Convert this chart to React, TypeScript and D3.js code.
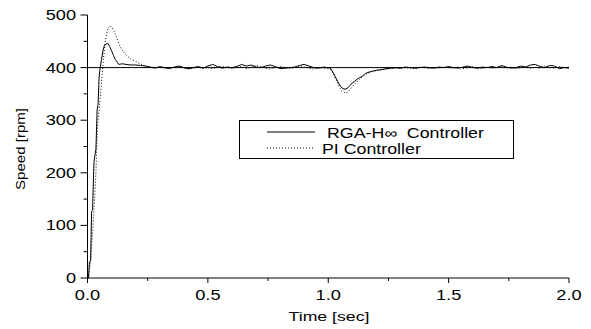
import React from "react";
import * as d3 from "d3";

// [time sec, speed rpm]
const rgaSeries: [number, number][] = [
  [0, 0], [0.004, 0], [0.008, 30], [0.013, 33], [0.017, 126], [0.021, 130], [0.027, 222],
  [0.035, 245], [0.04, 320], [0.044, 330], [0.048, 380], [0.052, 398], [0.058, 415],
  [0.064, 432], [0.07, 442], [0.078, 445], [0.085, 446], [0.092, 440], [0.1, 432],
  [0.108, 423], [0.116, 415], [0.124, 410], [0.13, 406], [0.14, 407], [0.15, 407],
  [0.16, 406], [0.18, 405], [0.2, 405], [0.22, 404], [0.24, 403], [0.26, 401], [0.28, 399],
  [0.3, 402], [0.32, 400], [0.34, 398], [0.36, 401], [0.38, 403], [0.4, 400], [0.42, 398],
  [0.44, 400], [0.46, 402], [0.48, 399], [0.5, 403], [0.52, 406], [0.54, 402], [0.56, 399],
  [0.58, 401], [0.6, 400], [0.62, 402], [0.64, 406], [0.66, 403], [0.68, 405], [0.7, 401],
  [0.72, 400], [0.74, 403], [0.76, 405], [0.78, 402], [0.8, 398], [0.82, 399], [0.84, 400],
  [0.86, 401], [0.88, 404], [0.9, 406], [0.92, 403], [0.94, 400], [0.96, 399], [0.98, 401],
  [1.0, 400], [1.01, 398], [1.02, 391], [1.03, 382], [1.04, 373], [1.05, 365], [1.06, 360],
  [1.07, 359], [1.08, 361], [1.09, 366], [1.1, 371], [1.11, 374], [1.12, 378], [1.13, 381],
  [1.14, 383], [1.15, 387], [1.16, 390], [1.18, 393], [1.2, 395], [1.22, 396], [1.24, 398],
  [1.26, 399], [1.28, 400], [1.3, 399], [1.32, 401], [1.34, 400], [1.36, 399], [1.38, 400],
  [1.4, 401], [1.42, 400], [1.44, 399], [1.46, 401], [1.48, 400], [1.5, 402], [1.52, 400],
  [1.54, 399], [1.56, 401], [1.58, 403], [1.6, 400], [1.62, 399], [1.64, 401], [1.66, 400],
  [1.68, 402], [1.7, 400], [1.72, 404], [1.74, 401], [1.76, 399], [1.78, 400], [1.8, 403],
  [1.82, 401], [1.84, 405], [1.86, 406], [1.88, 402], [1.9, 400], [1.92, 404], [1.94, 403],
  [1.96, 398], [1.98, 400], [2.0, 399],
];

const piSeries: [number, number][] = [
  [0, 0], [0.006, 5], [0.012, 30], [0.018, 67], [0.027, 129], [0.035, 200], [0.04, 275],
  [0.046, 310], [0.052, 338], [0.06, 382], [0.066, 415], [0.073, 446], [0.08, 465],
  [0.085, 475], [0.094, 480], [0.1, 477], [0.11, 470], [0.12, 458], [0.13, 446],
  [0.14, 436], [0.15, 430], [0.16, 424], [0.18, 416], [0.2, 412], [0.22, 407], [0.24, 403],
  [0.26, 401], [0.28, 400], [0.3, 401], [0.32, 399], [0.34, 400], [0.36, 400], [0.38, 402],
  [0.4, 399], [0.42, 397], [0.44, 399], [0.46, 401], [0.48, 398], [0.5, 400], [0.52, 398],
  [0.54, 401], [0.56, 403], [0.58, 400], [0.6, 398], [0.62, 400], [0.64, 402], [0.66, 398],
  [0.68, 401], [0.7, 404], [0.72, 402], [0.74, 399], [0.76, 397], [0.78, 400], [0.8, 402],
  [0.82, 400], [0.84, 398], [0.86, 400], [0.88, 402], [0.9, 401], [0.92, 399], [0.94, 397],
  [0.96, 400], [0.98, 399], [1.0, 398], [1.01, 396], [1.02, 389], [1.03, 379], [1.04, 369],
  [1.05, 360], [1.06, 354], [1.07, 352], [1.08, 353], [1.09, 358], [1.1, 364], [1.11, 369],
  [1.12, 374], [1.13, 378], [1.14, 382], [1.15, 385], [1.16, 388], [1.18, 392], [1.2, 394],
  [1.22, 396], [1.24, 397], [1.26, 398], [1.28, 399], [1.3, 398], [1.32, 400], [1.34, 399],
  [1.36, 398], [1.38, 401], [1.4, 400], [1.42, 398], [1.44, 400], [1.46, 399], [1.48, 401],
  [1.5, 400], [1.52, 399], [1.54, 401], [1.56, 398], [1.58, 400], [1.6, 402], [1.62, 399],
  [1.64, 398], [1.66, 401], [1.68, 399], [1.7, 400], [1.72, 402], [1.74, 399], [1.76, 401],
  [1.78, 398], [1.8, 400], [1.82, 402], [1.84, 399], [1.86, 401], [1.88, 399], [1.9, 403],
  [1.92, 400], [1.94, 399], [1.96, 402], [1.98, 400], [2.0, 401],
];

const setpoint = 400;
const xMajor = [0, 0.5, 1.0, 1.5, 2.0];
const xMinor = [0.25, 0.75, 1.25, 1.75];
const yMajor = [0, 100, 200, 300, 400, 500];
const yMinor = [50, 150, 250, 350, 450];
const legendLabels = ["RGA-H\u221E\u00A0 Controller", "PI Controller"];

const font = "'Liberation Sans', Arial, sans-serif";

export default function App() {
  const width = 591;
  const height = 329;
  const x = d3.scaleLinear().domain([0, 2]).range([87.5, 569]);
  const y = d3.scaleLinear().domain([0, 500]).range([278, 15]);

  const line = d3
    .line<[number, number]>()
    .x((d) => x(d[0]))
    .y((d) => y(d[1]));

  // the original text is stretched horizontally
  const label = (tx: number, ty: number, text: string, anchor: string, size = 14, sx = 1.3) => (
    <text
      transform={`translate(${tx},${ty}) scale(${sx},1)`}
      textAnchor={anchor}
      fontFamily={font}
      fontSize={size}
      fill="#000"
    >
      {text}
    </text>
  );

  return (
    <svg
      width={width}
      height={height}
      style={{ position: "absolute", left: 0, top: 0, background: "#fff" }}
    >
      {/* axes */}
      <line x1={x(0)} x2={x(0)} y1={y(0)} y2={y(500)} stroke="#000" />
      <line x1={x(0)} x2={x(2)} y1={y(0)} y2={y(0)} stroke="#000" />
      {yMajor.map((v) => (
        <g key={"ym" + v}>
          <line x1={x(0) - 7} x2={x(0)} y1={y(v)} y2={y(v)} stroke="#000" />
          {label(76, y(v) + 5, String(v), "end")}
        </g>
      ))}
      {yMinor.map((v) => (
        <line key={"yn" + v} x1={x(0) - 4} x2={x(0)} y1={y(v)} y2={y(v)} stroke="#000" />
      ))}
      {xMajor.map((v) => (
        <g key={"xm" + v}>
          <line x1={x(v)} x2={x(v)} y1={y(0)} y2={y(0) + 5} stroke="#000" />
          {label(x(v), 300, v.toFixed(1), "middle")}
        </g>
      ))}
      {xMinor.map((v) => (
        <line key={"xn" + v} x1={x(v)} x2={x(v)} y1={y(0)} y2={y(0) + 3} stroke="#000" />
      ))}
      {label(329, 321, "Time [sec]", "middle", 13, 1.36)}
      <text
        transform={`translate(25,149) rotate(-90)`}
        textAnchor="middle"
        fontFamily={font}
        fontSize={13}
        textLength={82}
        lengthAdjust="spacingAndGlyphs"
      >
        Speed [rpm]
      </text>

      {/* setpoint */}
      <line x1={x(0)} x2={x(2)} y1={y(setpoint)} y2={y(setpoint)} stroke="#000" />

      {/* series */}
      <path d={line(piSeries) ?? ""} fill="none" stroke="#000" strokeWidth={1} strokeDasharray="1,2" />
      <path d={line(rgaSeries) ?? ""} fill="none" stroke="#000" strokeWidth={1} />

      {/* legend */}
      <rect x={239.5} y={120.5} width={274} height={38} fill="#fff" stroke="#000" />
      <line x1={267} x2={315} y1={132} y2={132} stroke="#000" />
      <line x1={267} x2={315} y1={148} y2={148} stroke="#000" strokeDasharray="1,2" />
      {label(327, 138, legendLabels[0], "start", 14, 1.27)}
      {label(322, 154, legendLabels[1], "start", 14, 1.27)}
    </svg>
  );
}
